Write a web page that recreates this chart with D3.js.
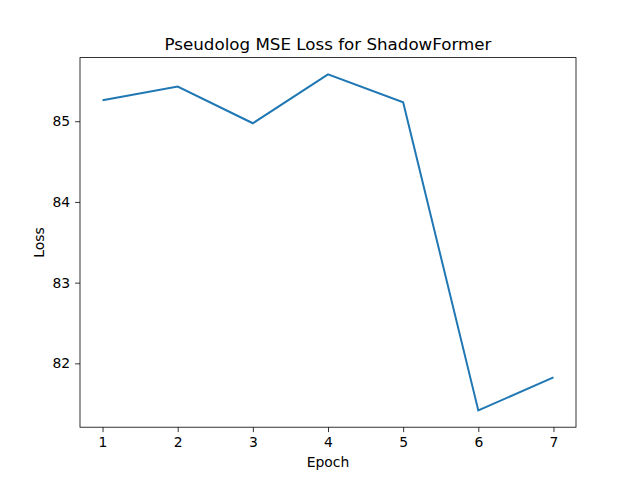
<!DOCTYPE html>
<html><head><meta charset="utf-8">
<script src="https://cdn.jsdelivr.net/npm/d3@7"></script>
<style>body{margin:0;background:#fff}svg text{font-family:"DejaVu Sans",sans-serif}</style>
</head><body><svg id="c" width="640" height="480"></svg>
<script>
const epochs = [1,2,3,4,5,6,7];
const loss = [85.26,85.43,84.975,85.58,85.235,81.417,81.826];
const yTicks = [82,83,84,85];
const title = "Pseudolog MSE Loss for ShadowFormer";

const svg = d3.select("#c");
const L=80,R=576,T=57.6,B=427.2;
const x = d3.scaleLinear().domain([0.7,7.3]).range([L,R]);
const lo=d3.min(loss), hi=d3.max(loss), m=(hi-lo)*0.05;
const y = d3.scaleLinear().domain([lo-m,hi+m]).range([B,T]);

const xa = svg.append("g").attr("transform",`translate(0,${B})`)
  .call(d3.axisBottom(x).tickValues(epochs).tickFormat(d3.format("d")).tickSize(4.9).tickPadding(4.9));
const ya = svg.append("g").attr("transform",`translate(${L},0)`)
  .call(d3.axisLeft(y).tickValues(yTicks).tickFormat(d3.format("d")).tickSize(4.9).tickPadding(4.9));
[xa,ya].forEach(a=>{a.selectAll("text").attr("font-size",13.9).attr("fill","#000");a.select(".domain").remove();a.selectAll("line").attr("stroke","#000").attr("stroke-width",0.8);});

svg.append("path").datum(loss)
  .attr("d", d3.line().x((d,i)=>x(epochs[i])).y(d=>y(d)))
  .attr("fill","none").attr("stroke","#1f77b4").attr("stroke-width",2);

svg.append("rect").attr("x",L).attr("y",T).attr("width",R-L).attr("height",B-T)
  .attr("fill","none").attr("stroke","#000").attr("stroke-width",0.8);

svg.append("text").attr("x",(L+R)/2).attr("y",T-8).attr("text-anchor","middle").attr("font-size",16.7).text(title);
svg.append("text").attr("x",(L+R)/2).attr("y",467).attr("text-anchor","middle").attr("font-size",13.9).text("Epoch");
svg.append("text").attr("transform",`translate(44,${(T+B)/2}) rotate(-90)`).attr("text-anchor","middle").attr("font-size",13.9).text("Loss");
</script></body></html>
